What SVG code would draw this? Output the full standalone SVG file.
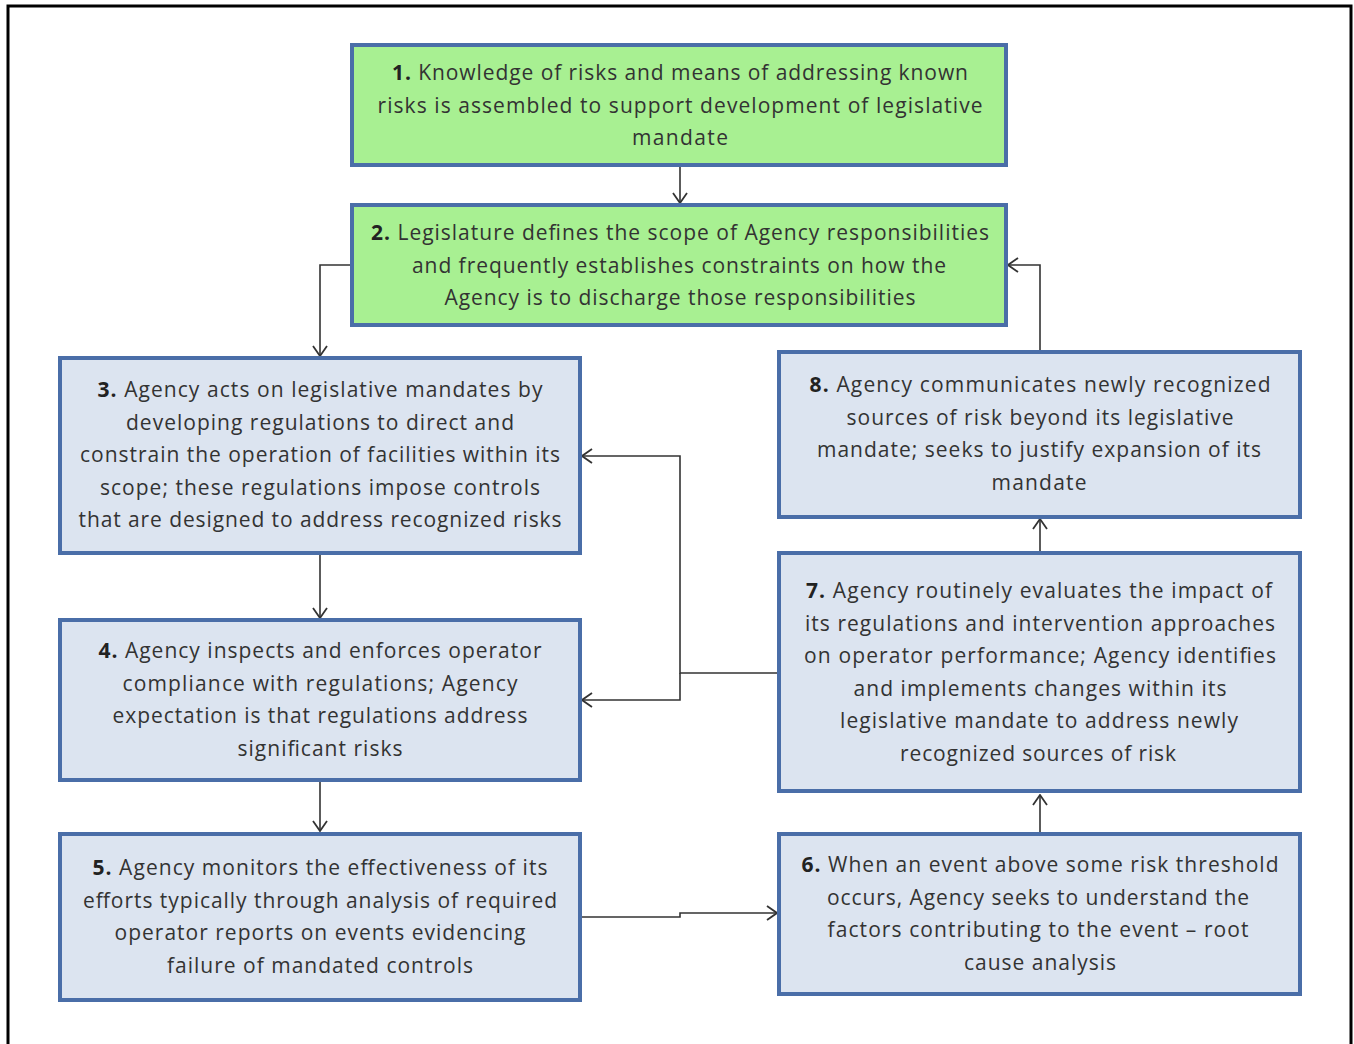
<svg xmlns="http://www.w3.org/2000/svg" width="1354" height="1044" viewBox="0 0 1354 1044">
<style>
.frame{fill:none;stroke:#000;stroke-width:3}
.g{fill:#a8f092;stroke:#4a6ea8;stroke-width:4}
.b{fill:#dce4f0;stroke:#4a6ea8;stroke-width:4}
.t{font-family:"Open Sans","Liberation Sans",sans-serif;font-size:21px;fill:#333;text-anchor:middle}
.n{font-weight:700;fill:#222}
.c{fill:none;stroke:#333;stroke-width:1.6}
</style>
<defs>
<marker id="ah" viewBox="0 0 12 16" refX="11" refY="8" markerWidth="12" markerHeight="16" markerUnits="userSpaceOnUse" orient="auto">
<path d="M1,1 L11,8 L1,15" fill="none" stroke="#333" stroke-width="1.8"/>
</marker>
</defs>
<rect width="1354" height="1044" fill="#fff"/>
<rect class="frame" x="8" y="6" width="1343" height="1060"/>

<g id="connectors">
<path class="c" d="M680,165 V203" marker-end="url(#ah)"/>
<path class="c" d="M352,265 H320 V356" marker-end="url(#ah)"/>
<path class="c" d="M320,553 V618" marker-end="url(#ah)"/>
<path class="c" d="M320,782 V831" marker-end="url(#ah)"/>
<path class="c" d="M580,917 H680 V913 H777" marker-end="url(#ah)"/>
<path class="c" d="M1040,834 V795" marker-end="url(#ah)"/>
<path class="c" d="M1040,553 V519" marker-end="url(#ah)"/>
<path class="c" d="M1040,352 V265 H1008" marker-end="url(#ah)"/>
<path class="c" d="M779,673 H680 V456 H582" marker-end="url(#ah)"/>
<path class="c" d="M680,673 V700 H582" marker-end="url(#ah)"/>
</g>

<g id="node1">
<rect class="g" x="352" y="45" width="654" height="120"/>
<text class="t" x="680" y="80" textLength="576" lengthAdjust="spacing"><tspan class="n">1.</tspan> Knowledge of risks and means of addressing known</text>
<text class="t" x="680" y="113" textLength="605" lengthAdjust="spacing">risks is assembled to support development of legislative</text>
<text class="t" x="680" y="145" textLength="96" lengthAdjust="spacing">mandate</text>
</g>

<g id="node2">
<rect class="g" x="352" y="205" width="654" height="120"/>
<text class="t" x="680" y="240" textLength="618" lengthAdjust="spacing"><tspan class="n">2.</tspan> Legislature defines the scope of Agency responsibilities</text>
<text class="t" x="679" y="273" textLength="534" lengthAdjust="spacing">and frequently establishes constraints on how the</text>
<text class="t" x="680" y="305" textLength="471" lengthAdjust="spacing">Agency is to discharge those responsibilities</text>
</g>

<g id="node3">
<rect class="b" x="60" y="358" width="520" height="195"/>
<text class="t" x="320" y="397" textLength="445" lengthAdjust="spacing"><tspan class="n">3.</tspan> Agency acts on legislative mandates by</text>
<text class="t" x="320" y="430" textLength="388" lengthAdjust="spacing">developing regulations to direct and</text>
<text class="t" x="320" y="462" textLength="480" lengthAdjust="spacing">constrain the operation of facilities within its</text>
<text class="t" x="320" y="495" textLength="440" lengthAdjust="spacing">scope; these regulations impose controls</text>
<text class="t" x="320" y="527" textLength="483" lengthAdjust="spacing">that are designed to address recognized risks</text>
</g>

<g id="node4">
<rect class="b" x="60" y="620" width="520" height="160"/>
<text class="t" x="320" y="658" textLength="443" lengthAdjust="spacing"><tspan class="n">4.</tspan> Agency inspects and enforces operator</text>
<text class="t" x="320" y="691" textLength="395" lengthAdjust="spacing">compliance with regulations; Agency</text>
<text class="t" x="320" y="723" textLength="415" lengthAdjust="spacing">expectation is that regulations address</text>
<text class="t" x="320" y="756" textLength="165" lengthAdjust="spacing">significant risks</text>
</g>

<g id="node5">
<rect class="b" x="60" y="834" width="520" height="166"/>
<text class="t" x="320" y="875" textLength="455" lengthAdjust="spacing"><tspan class="n">5.</tspan> Agency monitors the effectiveness of its</text>
<text class="t" x="320" y="908" textLength="474" lengthAdjust="spacing">efforts typically through analysis of required</text>
<text class="t" x="320" y="940" textLength="411" lengthAdjust="spacing">operator reports on events evidencing</text>
<text class="t" x="320" y="973" textLength="306" lengthAdjust="spacing">failure of mandated controls</text>
</g>

<g id="node6">
<rect class="b" x="779" y="834" width="521" height="160"/>
<text class="t" x="1040" y="872" textLength="477" lengthAdjust="spacing"><tspan class="n">6.</tspan> When an event above some risk threshold</text>
<text class="t" x="1038" y="905" textLength="422" lengthAdjust="spacing">occurs, Agency seeks to understand the</text>
<text class="t" x="1038" y="937" textLength="421" lengthAdjust="spacing">factors contributing to the event – root</text>
<text class="t" x="1040" y="970" textLength="152" lengthAdjust="spacing">cause analysis</text>
</g>

<g id="node7">
<rect class="b" x="779" y="553" width="521" height="238"/>
<text class="t" x="1039" y="598" textLength="466" lengthAdjust="spacing"><tspan class="n">7.</tspan> Agency routinely evaluates the impact of</text>
<text class="t" x="1040" y="631" textLength="470" lengthAdjust="spacing">its regulations and intervention approaches</text>
<text class="t" x="1040" y="663" textLength="472" lengthAdjust="spacing">on operator performance; Agency identifies</text>
<text class="t" x="1040" y="696" textLength="373" lengthAdjust="spacing">and implements changes within its</text>
<text class="t" x="1039" y="728" textLength="398" lengthAdjust="spacing">legislative mandate to address newly</text>
<text class="t" x="1038" y="761" textLength="276" lengthAdjust="spacing">recognized sources of risk</text>
</g>

<g id="node8">
<rect class="b" x="779" y="352" width="521" height="165"/>
<text class="t" x="1040" y="392" textLength="461" lengthAdjust="spacing"><tspan class="n">8.</tspan> Agency communicates newly recognized</text>
<text class="t" x="1040" y="425" textLength="387" lengthAdjust="spacing">sources of risk beyond its legislative</text>
<text class="t" x="1039" y="457" textLength="444" lengthAdjust="spacing">mandate; seeks to justify expansion of its</text>
<text class="t" x="1039" y="490" textLength="95" lengthAdjust="spacing">mandate</text>
</g>
</svg>
